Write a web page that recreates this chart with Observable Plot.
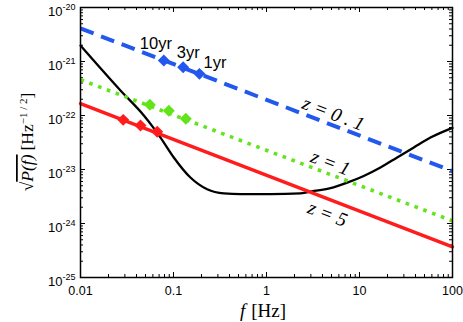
<!DOCTYPE html>
<html><head><meta charset="utf-8">
<script src="https://cdn.jsdelivr.net/npm/d3@7"></script>
<script src="https://cdn.jsdelivr.net/npm/@observablehq/plot@0.6"></script>
<style>body{margin:0;background:#fff} svg{display:block}</style>
</head><body><div id="chart"></div>
<script>
// ---- data ----
const lineFreq = [0.01, 100];
const z01Values = [4.1e-21, 9.3e-24];
const z1Values = [4.6e-22, 1.12e-24];
const z5Values = [1.66e-22, 3.7e-25];

const noiseFreq = [0.01, 0.0269, 0.048, 0.061, 0.0725, 0.1007, 0.152, 0.23, 0.348, 0.525, 1.1, 2.32, 3.23, 4.88, 7.38, 11.1, 16.8, 25.4, 38.4, 58, 100];
const noiseValues = [1.97e-21, 2.9e-22, 1.0e-22, 5.9e-23, 3.9e-23, 1.67e-23, 7.1e-24, 4.3e-24, 3.6e-24, 3.5e-24, 3.5e-24, 3.6e-24, 4.0e-24, 4.5e-24, 5.7e-24, 7.6e-24, 1.09e-23, 1.67e-23, 2.56e-23, 3.9e-23, 5.9e-23];

const obsLabels = ["10yr", "3yr", "1yr"];
const z01DiamondFreq = [0.0787, 0.127, 0.19];
const z01DiamondValues = [1.04e-21, 7.8e-22, 5.9e-22];
const z1DiamondFreq = [0.0556, 0.089, 0.1356];
const z1DiamondValues = [1.58e-22, 1.23e-22, 8.7e-23];
const z5DiamondFreq = [0.0288, 0.0442, 0.0668];
const z5DiamondValues = [8.3e-23, 6.5e-23, 5.0e-23];

const zLabels = ["z = 0 . 1", "z = 1", "z = 5"];
const zLabelFreq = [5.25, 4.88, 4.53];
const zLabelValues = [1.08e-22, 1.33e-23, 1.5e-24];

const xMajor = [0.01, 0.1, 1, 10, 100];
const xTickLabels = ["0.01", "0.1", "1", "10", "100"];
const yMajor = [1e-25, 1e-24, 1e-23, 1e-22, 1e-21, 1e-20];
const yExpLabels = ["-25", "-24", "-23", "-22", "-21", "-20"];

// ---- layout / style ----
const W = 463, H = 322, ML = 80, MR = 11, MT = 7, MB = 45;
const FW = W - ML - MR, FH = H - MT - MB;
const blue = "#2358ee", green = "#62e41a", red = "#ff1c1c";

const pairs = (xs, ys) => xs.map((x, i) => ({x, y: ys[i]}));
const xMinor = d3.scaleLog().domain([0.01, 100]).ticks().filter(d => !xMajor.some(m => Math.abs(m - d) / m < 1e-9));
const yMinor = d3.scaleLog().domain([1e-25, 1e-20]).ticks().filter(d => !yMajor.some(m => Math.abs(m - d) / m < 1e-9));

const labelOffsets = [[-8, -17], [5, -14.5], [15.5, -10.7]];
const blueD = pairs(z01DiamondFreq, z01DiamondValues);

const chart = Plot.plot({
  width: W, height: H,
  marginLeft: ML, marginRight: MR, marginTop: MT, marginBottom: MB,
  style: {fontFamily: "'Liberation Sans', Arial, sans-serif", fontSize: "12.5px", background: "white", color: "black"},
  x: {type: "log", domain: [0.01, 100], ticks: xMajor, tickSize: 0, tickPadding: 9,
      tickFormat: d => xTickLabels[xMajor.indexOf(d)], label: null},
  y: {type: "log", domain: [1e-25, 1e-20], axis: null},
  marks: [
    // inward ticks on all four sides
    Plot.tickX(xMajor, {x: d => d, insetTop: FH - 5, stroke: "black", strokeWidth: 1}),
    Plot.tickX(xMajor, {x: d => d, insetBottom: FH - 5, stroke: "black", strokeWidth: 1}),
    Plot.tickX(xMinor, {x: d => d, insetTop: FH - 3, stroke: "black", strokeWidth: 1}),
    Plot.tickX(xMinor, {x: d => d, insetBottom: FH - 3, stroke: "black", strokeWidth: 1}),
    Plot.tickY(yMajor, {y: d => d, insetRight: FW - 5, stroke: "black", strokeWidth: 1}),
    Plot.tickY(yMajor, {y: d => d, insetLeft: FW - 5, stroke: "black", strokeWidth: 1}),
    Plot.tickY(yMinor, {y: d => d, insetRight: FW - 3, stroke: "black", strokeWidth: 1}),
    Plot.tickY(yMinor, {y: d => d, insetLeft: FW - 3, stroke: "black", strokeWidth: 1}),
    // y tick labels 10^n
    Plot.text(yMajor, {y: d => d, frameAnchor: "left", text: () => "10", textAnchor: "end", dx: -18, dy: 4, fontSize: 13}),
    Plot.text(yMajor, {y: d => d, frameAnchor: "left", text: (d, i) => yExpLabels[i], textAnchor: "start", dx: -18, dy: 0, fontSize: 9}),
    // curves
    Plot.line(pairs(noiseFreq, noiseValues), {x: "x", y: "y", stroke: "black", strokeWidth: 2.3, curve: "monotone-x"}),
    Plot.line(pairs(lineFreq, z5Values), {x: "x", y: "y", stroke: red, strokeWidth: 3.4}),
    Plot.line(pairs(lineFreq, z1Values), {x: "x", y: "y", stroke: green, strokeWidth: 3.6, strokeDasharray: "3.6,5.8", strokeLinecap: "butt"}),
    Plot.line(pairs(lineFreq, z01Values), {x: "x", y: "y", stroke: blue, strokeWidth: 4, strokeDasharray: "14,8", strokeLinecap: "butt"}),
    // diamonds
    Plot.dot(pairs(z5DiamondFreq, z5DiamondValues), {x: "x", y: "y", symbol: "diamond2", r: 5.4, fill: red, stroke: null}),
    Plot.dot(pairs(z1DiamondFreq, z1DiamondValues), {x: "x", y: "y", symbol: "diamond2", r: 5.4, fill: green, stroke: null}),
    Plot.dot(blueD, {x: "x", y: "y", symbol: "diamond2", r: 5.4, fill: blue, stroke: null}),
    // observation time labels
    ...obsLabels.map((t, i) => Plot.text([blueD[i]], {x: "x", y: "y", text: () => t, dx: labelOffsets[i][0], dy: labelOffsets[i][1], fontSize: 16.5, fill: "black"})),
    // redshift labels
    Plot.text(pairs(zLabelFreq, zLabelValues).map((d, i) => ({...d, t: zLabels[i]})),
      {x: "x", y: "y", text: "t", rotate: 21, fontSize: 19.5, fontFamily: "'Liberation Serif', 'Times New Roman', serif", fontStyle: "italic", fill: "black"}),
    Plot.frame({stroke: "black", strokeWidth: 1.5})
  ]
});

const svg = d3.select(chart);
// y axis label
const yl = svg.append("text")
  .attr("transform", `translate(33,${MT + FH / 2}) rotate(-90)`)
  .attr("text-anchor", "middle")
  .attr("font-family", "'Liberation Serif', 'Times New Roman', serif")
  .attr("font-size", 17.5)
  .attr("fill", "black");
yl.append("tspan").text("√");
yl.append("tspan").attr("font-style", "italic").style("text-decoration", "overline").text("P(f)");
yl.append("tspan").attr("dx", 4).text("[Hz");
yl.append("tspan").attr("dy", -6).attr("font-size", 11).text("−1 / 2");
yl.append("tspan").attr("dy", 6).text("]");
// x axis label
const xl = svg.append("text")
  .attr("x", ML + FW / 2 - 3).attr("y", 317)
  .attr("text-anchor", "middle")
  .attr("font-family", "'Liberation Serif', 'Times New Roman', serif")
  .attr("font-size", 19)
  .attr("fill", "black");
xl.append("tspan").attr("font-style", "italic").text("f");
xl.append("tspan").attr("dx", 6).text("[Hz]");

document.getElementById("chart").append(chart);
</script>
</body></html>
